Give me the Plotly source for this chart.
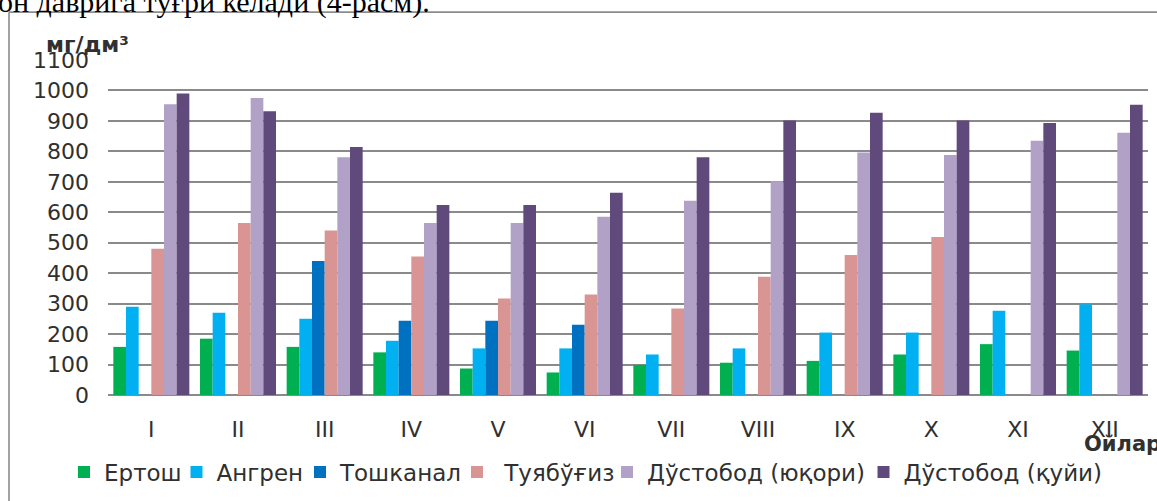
import plotly.graph_objects as go

months = ["I", "II", "III", "IV", "V", "VI", "VII", "VIII", "IX", "X", "XI", "XII"]
series_names = ["Ертош", "Ангрен", "Тошканал", "\u00a0Туябўғиз", "Дўстобод (юқори)", "Дўстобод (қуйи)"]
ertosh = [158, 185, 158, 140, 87, 74, 99, 106, 112, 133, 167, 146]
angren = [290, 270, 250, 178, 153, 153, 133, 153, 205, 205, 277, 298]
toshkanal = [None, None, 440, 244, 244, 231, None, None, None, None, None, None]
tuyabugiz = [480, 565, 540, 455, 317, 330, 284, 388, 460, 519, None, None]
dustobod_top = [955, 975, 781, 565, 565, 585, 638, 702, 796, 788, 835, 861]
dustobod_low = [990, 932, 814, 624, 624, 664, 781, 901, 927, 901, 893, 953]
y_ticks = [0, 100, 200, 300, 400, 500, 600, 700, 800, 900, 1000, 1100]

colors = ["#00B050", "#00B0F0", "#0070C0", "#D99594", "#B2A1C7", "#604A7B"]
values = [ertosh, angren, toshkanal, tuyabugiz, dustobod_top, dustobod_low]
# left edge (px) of each legend entry, laid out in one row like the original
legend_left_px = [64, 176.5, 300, 457, 607, 863.5]

W, H = 1157, 501
L, R, T, B = 108, 9, 60, 105
pw, ph = W - L - R, H - T - B


def px_x(px):
    return (px - L) / pw


def px_y(py):
    return (H - B - py) / ph


font_fam = "DejaVu Sans"
txt_col = "#303030"

fig = go.Figure()
legend_layouts = {}
for i, (name, vals, col) in enumerate(zip(series_names, values, colors)):
    lg = "legend" if i == 0 else f"legend{i + 1}"
    fig.add_trace(go.Bar(x=months, y=vals, name=name, legend=lg,
                         marker=dict(color=col, line=dict(width=0))))
    legend_layouts[lg] = dict(x=px_x(legend_left_px[i]), xanchor="left", y=px_y(472), yanchor="middle",
                              orientation="h", font=dict(family=font_fam, size=23, color=txt_col),
                              itemwidth=30, bgcolor="rgba(0,0,0,0)", borderwidth=0)

fig.update_layout(
    width=W, height=H,
    margin=dict(l=L, r=R, t=T, b=B, pad=0),
    paper_bgcolor="white", plot_bgcolor="white",
    barmode="group", bargap=0.123, bargroupgap=0,
    font=dict(family=font_fam, size=22, color=txt_col),
    xaxis=dict(showgrid=False, ticks="", showline=False, zeroline=False,
               tickfont=dict(family=font_fam, size=22, color=txt_col),
               ticklabelstandoff=19),
    yaxis=dict(range=[0, 1100], tickvals=y_ticks, showgrid=True, gridcolor="#8a8a8a", gridwidth=1.7,
               zeroline=True, zerolinecolor="#8a8a8a", zerolinewidth=1.7,
               ticks="", showline=False,
               tickfont=dict(family=font_fam, size=22, color=txt_col),
               ticklabelstandoff=18),
    showlegend=True,
    **legend_layouts,
)

# frame of the chart area (left and top border)
fig.add_shape(type="line", xref="paper", yref="paper",
              x0=px_x(9), x1=px_x(9), y0=px_y(12), y1=px_y(505),
              line=dict(color="#8c8c8c", width=1.6))
fig.add_shape(type="line", xref="paper", yref="paper",
              x0=px_x(9), x1=px_x(1165), y0=px_y(12), y1=px_y(12),
              line=dict(color="#8c8c8c", width=1.6))

# y-axis unit title
fig.add_annotation(text="мг/дм³", xref="paper", yref="paper", x=px_x(87), y=px_y(44),
                   xanchor="center", yanchor="middle", showarrow=False,
                   font=dict(family=font_fam, size=22, color=txt_col, weight="bold"))
# x-axis title
fig.add_annotation(text="Ойлар", xref="paper", yref="paper", x=px_x(1082), y=px_y(445),
                   xanchor="left", yanchor="middle", showarrow=False,
                   font=dict(family=font_fam, size=21, color=txt_col, weight="bold"))
# clipped line of document text above the chart
fig.add_annotation(text="он даврига тўғри келади (4-расм).", xref="paper", yref="paper",
                   x=px_x(-4), y=px_y(21), xanchor="left", yanchor="bottom", showarrow=False,
                   font=dict(family="Liberation Serif", size=30, color="#000000"))

fig.write_html("out.html", config={"displayModeBar": False},
               post_script="document.body.style.margin='0';")
